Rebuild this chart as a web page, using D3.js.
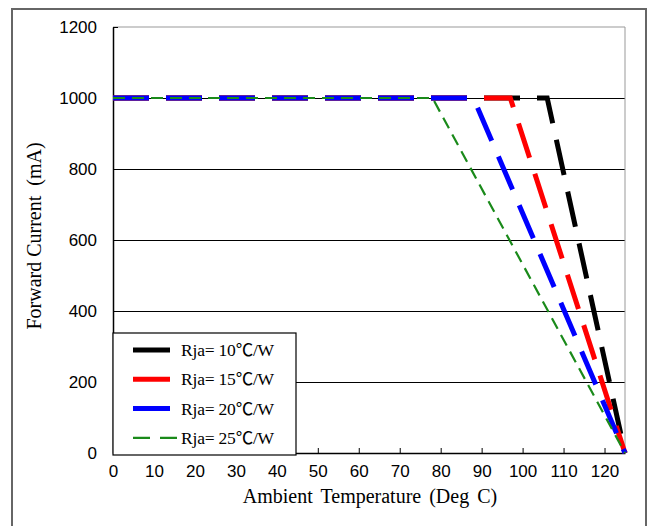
<!DOCTYPE html>
<html>
<head>
<meta charset="utf-8">
<script src="https://cdn.jsdelivr.net/npm/d3@7"></script>
<style>
  body { margin: 0; background: #fff; }
  svg { display: block; }
</style>
</head>
<body>
<svg></svg>
<script>
// 数据
let xTicks = [0, 10, 20, 30, 40, 50, 60, 70, 80, 90, 100, 110, 120]
let yTicks = [0, 200, 400, 600, 800, 1000, 1200]
let seriesNames = ['Rja= 10℃/W', 'Rja= 15℃/W', 'Rja= 20℃/W', 'Rja= 25℃/W']
let seriesColors = ['#000000', '#ff0000', '#0000ff', '#1a8a1a']
// 每条曲线的拐点温度 (电流=1000mA 开始下降)
let kneeTemp = [106, 97, 88, 78]
let maxCurrent = [1000, 1000, 1000, 1000]
let endTemp = [125, 125, 125, 125]

let width = 654
let height = 526
let svg = d3.select('svg')
    .attr('width', width)
    .attr('height', height)

// 外框
svg.append('rect')
    .attr('x', 12).attr('y', 9)
    .attr('width', 634).attr('height', 530)
    .attr('fill', 'none')
    .attr('stroke', '#666')
    .attr('stroke-width', 2)

let pLeft = 113, pRight = 625, pTop = 27, pBottom = 453

let xScale = d3.scaleLinear().domain([0, 125]).range([pLeft, pRight])
let yScale = d3.scaleLinear().domain([0, 1200]).range([pBottom, pTop])

// 网格线
svg.append('g').selectAll('line')
    .data(yTicks.filter(v => v > 0 && v < 1200)).enter()
    .append('line')
    .attr('x1', pLeft).attr('x2', pRight)
    .attr('y1', v => yScale(v) + 0.5).attr('y2', v => yScale(v) + 0.5)
    .attr('stroke', '#000').attr('stroke-width', 1)
    .attr('shape-rendering', 'crispEdges')

// 绘图区边框 (上、右)
svg.append('path')
    .attr('d', `M${pLeft},${pTop}H${pRight}V${pBottom}`)
    .attr('fill', 'none')
    .attr('stroke', '#999')
    .attr('stroke-width', 1)

// 坐标轴
let xAxis = d3.axisBottom(xScale).tickValues(xTicks).tickFormat(d3.format('d'))
    .tickSizeInner(-5).tickSizeOuter(0).tickPadding(12)
let yAxis = d3.axisLeft(yScale).tickValues(yTicks).tickFormat(d3.format('d'))
    .tickSizeInner(-5).tickSizeOuter(0).tickPadding(16)

let gx = svg.append('g').attr('transform', `translate(0,${pBottom})`).call(xAxis)
let gy = svg.append('g').attr('transform', `translate(${pLeft},0)`).call(yAxis)
;[gx, gy].forEach(g => {
    g.select('.domain').attr('stroke', '#000').attr('stroke-width', 1.5)
    g.selectAll('.tick line').attr('stroke', '#000')
    g.selectAll('text')
        .attr('font-family', 'Liberation Sans, Arial, sans-serif')
        .attr('font-size', 17)
        .attr('fill', '#000')
})

// 曲线
let line = d3.line().x(d => xScale(d[0])).y(d => yScale(d[1]))
seriesNames.forEach((name, i) => {
    let pts = [[0, maxCurrent[i]], [kneeTemp[i], maxCurrent[i]], [endTemp[i], 0]]
    let thin = i === 3
    svg.append('path')
        .datum(pts)
        .attr('fill', 'none')
        .attr('stroke', seriesColors[i])
        .attr('stroke-width', thin ? 2.2 : 5)
        .attr('stroke-dasharray', thin ? '12,7' : '36,17')
        .attr('stroke-linejoin', 'miter')
        .attr('d', line)
})

// 图例
let legend = svg.append('g')
legend.append('rect')
    .attr('x', pLeft).attr('y', 333)
    .attr('width', 183).attr('height', 122)
    .attr('fill', '#fff')
    .attr('stroke', '#000')
    .attr('stroke-width', 1.2)
seriesNames.forEach((name, i) => {
    let y = 350 + i * 29.3
    let thin = i === 3
    legend.append('line')
        .attr('x1', 133).attr('x2', thin ? 180 : 170)
        .attr('y1', y).attr('y2', y)
        .attr('stroke', seriesColors[i])
        .attr('stroke-width', thin ? 2.2 : 5)
        .attr('stroke-dasharray', thin ? '17,10' : null)
    legend.append('text')
        .text(name)
        .attr('x', 181)
        .attr('y', y + 6)
        .attr('font-family', 'Liberation Serif, Noto Sans CJK SC, serif')
        .attr('font-size', 17.5)
        .attr('letter-spacing', -0.2)
})

// 轴标题
svg.append('text')
    .text('Ambient Temperature (Deg C)')
    .attr('x', 370).attr('y', 503)
    .attr('text-anchor', 'middle')
    .attr('font-family', 'Liberation Serif, Times New Roman, serif')
    .attr('font-size', 20)
    .attr('word-spacing', 3)

svg.append('text')
    .text('Forward Current  (mA)')
    .attr('transform', `translate(41,236) rotate(-90)`)
    .attr('text-anchor', 'middle')
    .attr('font-family', 'Liberation Serif, Times New Roman, serif')
    .attr('font-size', 20)
    .style('white-space', 'pre')
</script>
</body>
</html>
